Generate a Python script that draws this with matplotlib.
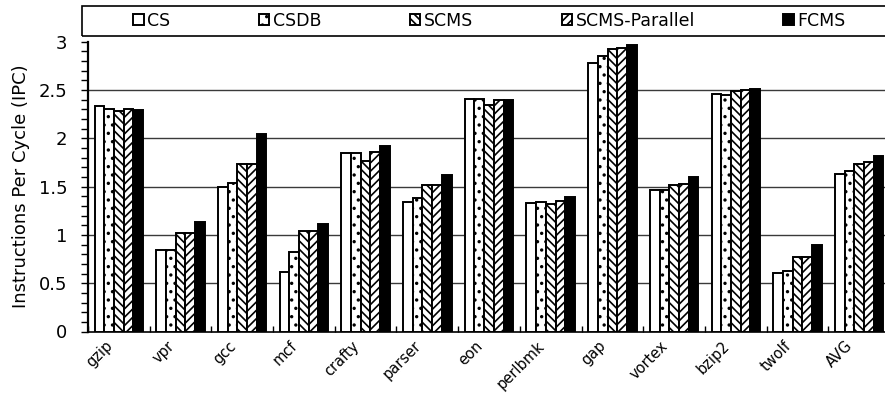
import numpy as np
import matplotlib
matplotlib.use("Agg")
import matplotlib.pyplot as plt
from matplotlib.patches import Rectangle
from matplotlib.transforms import ScaledTranslation

benchmarks = ["gzip", "vpr", "gcc", "mcf", "crafty", "parser", "eon",
              "perlbmk", "gap", "vortex", "bzip2", "twolf", "AVG"]
schemes = ["CS", "CSDB", "SCMS", "SCMS-Parallel", "FCMS"]

ipc_cs = [2.33, 0.84, 1.50, 0.62, 1.85, 1.34, 2.41, 1.33, 2.78, 1.46, 2.46, 0.61, 1.63]
ipc_csdb = [2.30, 0.84, 1.54, 0.82, 1.85, 1.38, 2.41, 1.34, 2.85, 1.46, 2.45, 0.63, 1.66]
ipc_scms = [2.28, 1.02, 1.73, 1.04, 1.76, 1.52, 2.34, 1.32, 2.92, 1.52, 2.49, 0.77, 1.73]
ipc_scms_par = [2.30, 1.02, 1.73, 1.04, 1.86, 1.52, 2.40, 1.35, 2.93, 1.53, 2.50, 0.77, 1.75]
ipc_fcms = [2.29, 1.13, 2.04, 1.11, 1.92, 1.62, 2.40, 1.39, 2.97, 1.60, 2.51, 0.90, 1.82]

series = [ipc_cs, ipc_csdb, ipc_scms, ipc_scms_par, ipc_fcms]
fills = ["white", "white", "white", "white", "black"]
hatches = [None, "..", "\\\\\\\\", "////", None]

plt.rcParams["hatch.linewidth"] = 1.2
plt.rcParams["font.family"] = "DejaVu Sans"

fig = plt.figure(figsize=(8.85, 3.96), dpi=100)
ax = fig.add_axes([88 / 885, 64.5 / 396, 802 / 885, 289.8 / 396])

x = np.arange(len(benchmarks))
w = 0.157
for j, vals in enumerate(series):
    ax.bar(x + (j - 2) * w, vals, w, color=fills[j], edgecolor="black",
           linewidth=1.4, hatch=hatches[j], label=schemes[j], zorder=3)

ax.set_xlim(-0.5, len(benchmarks) - 0.5)
ax.set_ylim(0, 3)
ax.set_yticks(np.arange(0, 3.01, 0.5))
ax.set_yticklabels(["0", "0.5", "1", "1.5", "2", "2.5", "3"])
ax.set_yticks(np.arange(0, 3.01, 0.1), minor=True)
for g in np.arange(0.5, 2.51, 0.5):
    ax.axhline(g, color="#3a3a3a", lw=1.0, zorder=1)

ax.set_xticks(x)
ax.set_xticklabels(benchmarks, rotation=45, ha="right", va="top",
                   rotation_mode="anchor", fontsize=10.5)
ax.set_xticks(np.arange(-0.5, len(benchmarks)), minor=True)
ax.tick_params(axis="x", which="major", length=0, pad=5)
ax.tick_params(axis="x", which="minor", length=4, direction="in", width=1)
ax.tick_params(axis="y", which="both", length=5, direction="out", width=1,
               labelsize=13, pad=10)
off = ScaledTranslation(-14 / 100, 0, fig.dpi_scale_trans)
for lab in ax.get_xticklabels():
    lab.set_transform(lab.get_transform() + off)

for side in ["top", "right"]:
    ax.spines[side].set_visible(False)
ax.spines["left"].set_linewidth(1.6)
ax.spines["bottom"].set_linewidth(1.2)
ax.set_ylabel("Instructions Per Cycle (IPC)", fontsize=13, labelpad=6)

# legend frame runs past the right edge of the figure
fig.patches.append(Rectangle((82 / 885, 1 - 36 / 396), 815 / 885, 30 / 396,
                             transform=fig.transFigure, fill=False,
                             edgecolor="black", linewidth=1.2))
fig.legend(loc="center", bbox_to_anchor=(489.5 / 885, 1 - 21 / 396),
           ncol=5, frameon=False, fontsize=12.5, handlelength=0.6,
           handleheight=0.6, handletextpad=0.2, columnspacing=5.1,
           borderpad=0)

fig.savefig("out.png", dpi=100)
